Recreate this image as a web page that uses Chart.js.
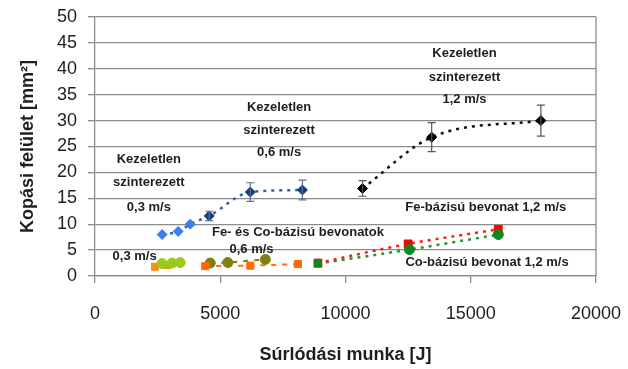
<!DOCTYPE html>
<html>
<head>
<meta charset="utf-8">
<script src="https://cdn.jsdelivr.net/npm/chart.js@4/dist/chart.umd.min.js"></script>
<style>
  html, body { margin: 0; padding: 0; background: #fff; }
  #wrap { width: 628px; height: 369px; }
</style>
</head>
<body>
<div id="wrap"><canvas id="c" width="628" height="369"></canvas></div>
<script>
// Kezeletlen szinterezett minták (súrlódási munka [J], kopási felület [mm²], szórás)
const untreated03X = [2680, 3320, 3800];
const untreated03Y = [8.0, 8.6, 10.0];
const untreated06X = [4560, 6200, 8280];
const untreated06Y = [11.6, 16.2, 16.6];
const untreated06Err = [0.9, 1.8, 1.9];
const untreated12X = [10680, 13440, 17800];
const untreated12Y = [16.9, 26.8, 30.0];
const untreated12Err = [1.5, 2.8, 3.0];

// Fe- és Co-bázisú bevonatok
const fe03X = [2400, 2880];
const fe03Y = [1.8, 2.1];
const co03X = [2680, 3080, 3400];
const co03Y = [2.4, 2.5, 2.6];
const fe06X = [4400, 6200, 8100];
const fe06Y = [1.9, 2.0, 2.3];
const co06X = [4600, 5300, 6800];
const co06Y = [2.5, 2.6, 3.2];
const fe12X = [8900, 12500, 16100];
const fe12Y = [2.5, 6.2, 9.0];
const co12X = [8900, 12550, 16100];
const co12Y = [2.4, 5.1, 8.0];

// Tengelyfeliratok
const xTickValues = [0, 5000, 10000, 15000, 20000];
const yTickValues = [0, 5, 10, 15, 20, 25, 30, 35, 40, 45, 50];
const xTitle = 'Súrlódási munka [J]';
const yTitle = 'Kopási felület [mm²]';

const pts = (xs, ys) => xs.map((x, i) => ({ x, y: ys[i] }));

// Szöveges feliratok a diagramterületen (adatkoordinátákban)
const notes = [
  { x: 2150, y: 22.6, text: 'Kezeletlen' },
  { x: 2150, y: 18.0, text: 'szinterezett' },
  { x: 2150, y: 13.3, text: '0,3 m/s' },
  { x: 7350, y: 32.6, text: 'Kezeletlen' },
  { x: 7350, y: 28.2, text: 'szinterezett' },
  { x: 7350, y: 23.8, text: '0,6 m/s' },
  { x: 14750, y: 43.0, text: 'Kezeletlen' },
  { x: 14750, y: 38.3, text: 'szinterezett' },
  { x: 14750, y: 34.0, text: '1,2 m/s' },
  { x: 15600, y: 13.3, text: 'Fe-bázisú bevonat 1,2 m/s' },
  { x: 8100, y: 8.5, text: 'Fe- és Co-bázisú bevonatok' },
  { x: 6250, y: 5.2, text: '0,6 m/s' },
  { x: 1580, y: 3.7, text: '0,3 m/s' },
  { x: 15650, y: 2.6, text: 'Co-bázisú bevonat 1,2 m/s' }
];

const FONT = "'Liberation Sans', Arial, sans-serif";

// Hibasávok rajzolása
const errorBarPlugin = {
  id: 'errorBars',
  afterDatasetsDraw(chart) {
    const ctx = chart.ctx;
    const ys = chart.scales.y;
    chart.data.datasets.forEach((ds, i) => {
      if (!ds.errorBars) return;
      const meta = chart.getDatasetMeta(i);
      ctx.save();
      ctx.strokeStyle = ds.errorColor || '#555';
      ctx.lineWidth = 1.2;
      meta.data.forEach((el, j) => {
        const v = ds.data[j].y;
        const e = ds.errorBars[j];
        const top = ys.getPixelForValue(v + e);
        const bot = ys.getPixelForValue(v - e);
        ctx.beginPath();
        ctx.moveTo(el.x, top); ctx.lineTo(el.x, bot);
        ctx.moveTo(el.x - 4, top); ctx.lineTo(el.x + 4, top);
        ctx.moveTo(el.x - 4, bot); ctx.lineTo(el.x + 4, bot);
        ctx.stroke();
      });
      ctx.restore();
    });
  }
};

// Jobb oldali keret és feliratok
const framePlugin = {
  id: 'frameAndNotes',
  afterDraw(chart) {
    const { ctx, chartArea: a, scales } = chart;
    ctx.save();
    ctx.strokeStyle = '#8c8c8c';
    ctx.lineWidth = 1.3;
    ctx.beginPath();
    ctx.moveTo(a.right, a.top);
    ctx.lineTo(a.right, a.bottom);
    ctx.stroke();
    ctx.fillStyle = '#1e1e1e';
    ctx.font = 'bold 13px ' + FONT;
    ctx.textAlign = 'center';
    ctx.textBaseline = 'middle';
    notes.forEach(n => {
      ctx.fillText(n.text, scales.x.getPixelForValue(n.x), scales.y.getPixelForValue(n.y));
    });
    ctx.restore();
  }
};

const dotted = [3, 5];

new Chart(document.getElementById('c'), {
  type: 'scatter',
  data: {
    datasets: [
      // Trendvonalak
      {
        data: pts(untreated03X.concat(untreated06X), untreated03Y.concat(untreated06Y)),
        showLine: true, cubicInterpolationMode: 'monotone',
        borderColor: '#3060b0', borderWidth: 2.5, borderDash: dotted,
        pointRadius: 0, order: 5
      },
      {
        data: pts(untreated12X, untreated12Y),
        showLine: true, cubicInterpolationMode: 'monotone',
        borderColor: '#111', borderWidth: 2.5, borderDash: dotted,
        pointRadius: 0, order: 5
      },
      {
        data: pts(fe06X, fe06Y), showLine: true,
        borderColor: '#ff6a10', borderWidth: 2, borderDash: [5, 6],
        pointRadius: 0, order: 5
      },
      {
        data: pts(co06X, co06Y), showLine: true,
        borderColor: '#808000', borderWidth: 2, borderDash: [5, 6],
        pointRadius: 0, order: 5
      },
      {
        data: pts(fe12X, fe12Y), showLine: true, cubicInterpolationMode: 'monotone',
        borderColor: '#ff1a1a', borderWidth: 2.5, borderDash: dotted,
        pointRadius: 0, order: 5
      },
      {
        data: pts(co12X, co12Y), showLine: true, cubicInterpolationMode: 'monotone',
        borderColor: '#1f9a2a', borderWidth: 2.5, borderDash: dotted,
        pointRadius: 0, order: 5
      },
      // Mérési pontok
      {
        label: 'Kezeletlen 0,3 m/s', data: pts(untreated03X, untreated03Y),
        pointStyle: 'rectRot', pointRadius: 5,
        backgroundColor: '#3a7df5', borderColor: '#3a7df5', order: 1
      },
      {
        label: 'Kezeletlen 0,6 m/s', data: pts(untreated06X, untreated06Y),
        errorBars: untreated06Err, errorColor: '#5a6f90',
        pointStyle: 'rectRot', pointRadius: 5,
        backgroundColor: '#173d7a', borderColor: '#173d7a', order: 1
      },
      {
        label: 'Kezeletlen 1,2 m/s', data: pts(untreated12X, untreated12Y),
        errorBars: untreated12Err, errorColor: '#555',
        pointStyle: 'rectRot', pointRadius: 5,
        backgroundColor: '#000', borderColor: '#000', order: 1
      },
      {
        label: 'Fe 0,3 m/s', data: pts(fe03X, fe03Y),
        pointStyle: 'rect', pointRadius: 5,
        backgroundColor: '#ff8c1a', borderColor: '#ff8c1a', order: 2
      },
      {
        label: 'Co 0,3 m/s', data: pts(co03X, co03Y),
        pointStyle: 'circle', pointRadius: 5,
        backgroundColor: '#99cc1a', borderColor: '#99cc1a', order: 1
      },
      {
        label: 'Fe 0,6 m/s', data: pts(fe06X, fe06Y),
        pointStyle: 'rect', pointRadius: 5,
        backgroundColor: '#ff6a00', borderColor: '#ff6a00', order: 1
      },
      {
        label: 'Co 0,6 m/s', data: pts(co06X, co06Y),
        pointStyle: 'circle', pointRadius: 5,
        backgroundColor: '#808010', borderColor: '#808010', order: 1
      },
      {
        label: 'Fe 1,2 m/s', data: pts(fe12X, fe12Y),
        pointStyle: 'rect', pointRadius: 5.5,
        backgroundColor: '#ff0000', borderColor: '#ff0000', order: 2
      },
      {
        label: 'Co 1,2 m/s', data: pts(co12X, co12Y),
        pointStyle: ['rect', 'circle', 'circle'], pointRadius: 5,
        backgroundColor: '#0a8a20', borderColor: '#0a8a20', order: 1
      }
    ]
  },
  options: {
    responsive: false,
    animation: false,
    devicePixelRatio: 1,
    layout: { padding: { top: 17, right: 32, left: 0, bottom: 0 } },
    plugins: { legend: { display: false }, tooltip: { enabled: false } },
    scales: {
      x: {
        type: 'linear', min: 0, max: 20000,
        afterBuildTicks: s => { s.ticks = xTickValues.map(v => ({ value: v })); },
        afterFit: s => { s.height = 93; s.paddingLeft = 0; s.paddingRight = 0; },
        grid: { drawOnChartArea: false, drawTicks: true, tickLength: 7, color: '#8c8c8c', lineWidth: 1.3 },
        border: { color: '#8c8c8c', width: 1.3 },
        ticks: { font: { family: FONT, size: 18 }, color: '#1e1e1e', padding: 20, maxRotation: 0, callback: v => String(v) },
        title: { display: true, text: xTitle, font: { family: FONT, size: 18, weight: 'bold' }, color: '#1e1e1e', padding: { top: 0, bottom: 3 } }
      },
      y: {
        type: 'linear', min: 0, max: 50,
        afterBuildTicks: s => { s.ticks = yTickValues.map(v => ({ value: v })); },
        afterFit: s => { s.width = 95; s.paddingTop = 0; s.paddingBottom = 0; },
        grid: { drawOnChartArea: true, drawTicks: true, tickLength: 7, color: '#8c8c8c', lineWidth: 1.3 },
        border: { color: '#8c8c8c', width: 1.3 },
        ticks: { font: { family: FONT, size: 18 }, color: '#1e1e1e', padding: 11, callback: v => String(v) },
        title: { display: true, text: yTitle, font: { family: FONT, size: 18, weight: 'bold' }, color: '#1e1e1e', padding: { top: 17, bottom: 0 } }
      }
    }
  },
  plugins: [errorBarPlugin, framePlugin]
});
</script>
</body>
</html>
